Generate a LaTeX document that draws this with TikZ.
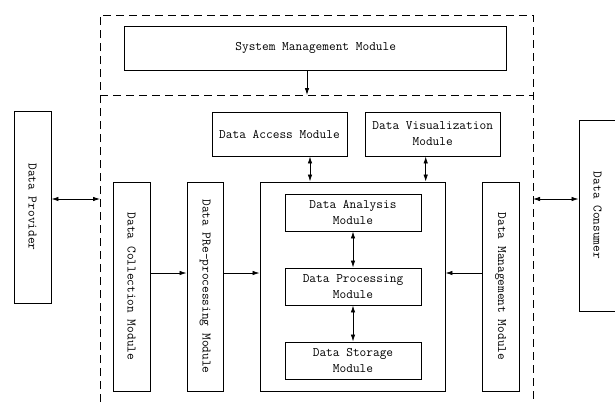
\documentclass[tikz,border=0pt]{standalone}
\usetikzlibrary{arrows.meta}
\begin{document}
\begin{tikzpicture}[x=1pt,y=-1pt,
		font=\ttfamily\fontsize{13}{16}\selectfont,
		box/.style={draw,line width=0.9pt,inner sep=0pt,align=center},
		dashbox/.style={draw,line width=0.9pt,dash pattern=on 8pt off 5pt},
		arr/.style={line width=0.8pt,-{Latex[length=7pt,width=4.5pt]}},
		biarr/.style={line width=0.8pt,{Latex[length=7pt,width=4.5pt]}-{Latex[length=7pt,width=4.5pt]}}]
	\useasboundingbox (0,0) rectangle (615,402);
	% dashed frame
	\coordinate (tl) at (100,15);
	\coordinate (tr) at (533,15);
	\coordinate (ml) at (100,95);
	\coordinate (mr) at (533,95);
	\coordinate (bl) at (100,402);
	\coordinate (br) at (533,402);
	\draw[dashbox] (bl) -- (tl) -- (tr) -- (br);
	\draw[dashbox] (ml) -- (mr);
	% top
	\node[box,minimum width=382,minimum height=44] (sys) at (315.7,48) {System Management Module};
	\coordinate (sysin) at (307,95);
	\draw[arr] (sys.south -| sysin) -- (sysin);
	\node[box,minimum width=135,minimum height=44] (access) at (279.5,134) {Data Access Module};
	\node[box,minimum width=135,minimum height=44] (vis) at (432.7,134) {Data Visualization\\Module};
	% outside
	\node[box,minimum width=37,minimum height=192] (provider) at (32.5,207) {\rotatebox{-90}{Data Provider}};
	\node[box,minimum width=37,minimum height=191] (consumer) at (597.5,215.5) {\rotatebox{-90}{Data Consumer}};
	% columns
	\node[box,minimum width=37,minimum height=209] (collect) at (131.5,286.5) {\rotatebox{-90}{Data Collection Module}};
	\node[box,minimum width=36,minimum height=209] (prep) at (205,286.5) {\rotatebox{-90}{Data PRe-processing Module}};
	\node[box,minimum width=185,minimum height=209] (core) at (352.5,286.5) {};
	\node[box,minimum width=37,minimum height=209] (mgmt) at (500.5,286.5) {\rotatebox{-90}{Data Management Module}};
	% inner
	\node[box,minimum width=136,minimum height=37] (analysis) at (353,212.5) {Data Analysis\\Module};
	\node[box,minimum width=136,minimum height=37] (processing) at (353,286.5) {Data Processing\\Module};
	\node[box,minimum width=136,minimum height=37] (storage) at (353,360.5) {Data Storage\\Module};
	% connectors
	\draw[biarr] ([xshift=30.5pt]access.south) -- ([xshift=30.5pt]access.south |- core.north);
	\draw[biarr] ([xshift=-7pt]vis.south) -- ([xshift=-7pt]vis.south |- core.north);
	\draw[biarr] ([yshift=8pt]provider.east) -- ([yshift=8pt]provider.east -| ml);
	\draw[biarr] ([yshift=16.5pt]consumer.west -| mr) -- ([yshift=16.5pt]consumer.west);
	\draw[arr] ([yshift=13.5pt]collect.east) -- ([yshift=13.5pt]prep.west);
	\draw[arr] ([yshift=13.5pt]prep.east) -- ([yshift=13.5pt]core.west);
	\draw[arr] ([yshift=13.5pt]mgmt.west) -- ([yshift=13.5pt]core.east);
	\draw[biarr] (analysis) -- (processing);
	\draw[biarr] (processing) -- (storage);
\end{tikzpicture}
\end{document}
